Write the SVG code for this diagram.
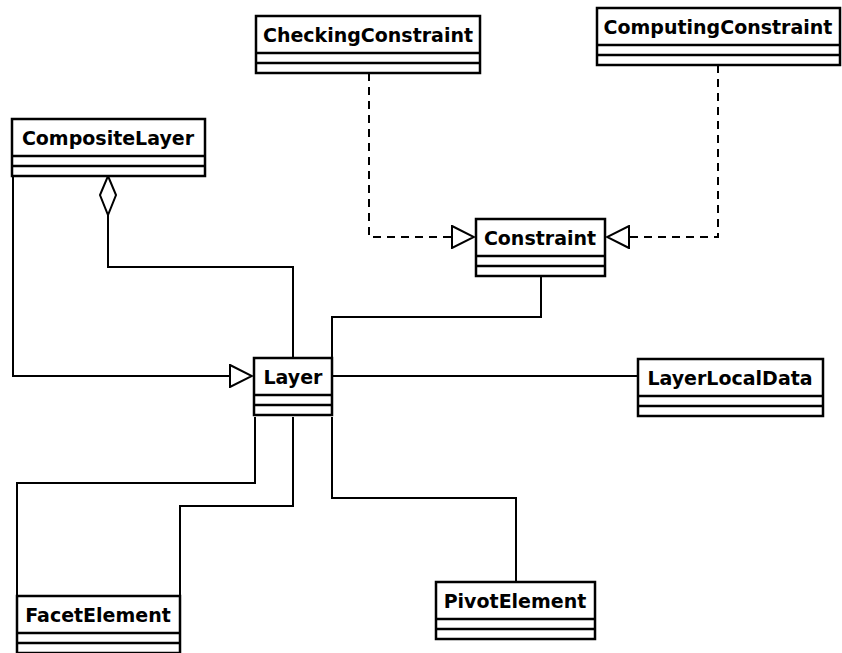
<svg xmlns="http://www.w3.org/2000/svg" width="842" height="653" viewBox="0 0 842 653">
<defs>
<style>
.box{fill:#fff;stroke:#000;stroke-width:2.5}
.sep{stroke:#000;stroke-width:2.5}
.lbl{font-family:"DejaVu Sans",sans-serif;font-weight:bold;font-size:19px;fill:#000}
.ln{fill:none;stroke:#000;stroke-width:2}
.dash{fill:none;stroke:#000;stroke-width:2;stroke-dasharray:8,6}
</style>
<marker id="tri" markerWidth="24" markerHeight="24" refX="23" refY="12" orient="auto" markerUnits="userSpaceOnUse">
<path d="M1,1 L23,12 L1,23 Z" fill="#fff" stroke="#000" stroke-width="2"/>
</marker>
<marker id="dia" markerWidth="18" markerHeight="42" refX="9" refY="1" orient="0" markerUnits="userSpaceOnUse">
<path d="M9,1 L17,20 L9,40 L1,20 Z" fill="#fff" stroke="#000" stroke-width="2"/>
</marker>
</defs>
<rect width="842" height="653" fill="#fff"/>
<g id="connectors">
<path class="dash" d="M369,73 V237 H474" marker-end="url(#tri)"/>
<path class="dash" d="M718,65 V237 H607" marker-end="url(#tri)"/>
<path class="ln" d="M108,176 V267 H293 V358" marker-start="url(#dia)"/>
<path class="ln" d="M13,176 V376 H252" marker-end="url(#tri)"/>
<path class="ln" d="M541,276 V317 H332 V358"/>
<path class="ln" d="M332,376 H638"/>
<path class="ln" d="M255,417 V483 H17 V596"/>
<path class="ln" d="M293,417 V506 H180 V596"/>
<path class="ln" d="M332,417 V498 H516 V582"/>
</g>
<g id="CheckingConstraint">
<rect class="box" x="256" y="16" width="224" height="57"/>
<line class="sep" x1="256" y1="53" x2="480" y2="53"/>
<line class="sep" x1="256" y1="63" x2="480" y2="63"/>
<text class="lbl" x="368" y="42" text-anchor="middle">CheckingConstraint</text>
</g>
<g id="ComputingConstraint">
<rect class="box" x="597" y="8" width="243" height="57"/>
<line class="sep" x1="597" y1="45" x2="840" y2="45"/>
<line class="sep" x1="597" y1="55" x2="840" y2="55"/>
<text class="lbl" x="718" y="34" text-anchor="middle">ComputingConstraint</text>
</g>
<g id="CompositeLayer">
<rect class="box" x="12" y="119" width="193" height="57"/>
<line class="sep" x1="12" y1="156" x2="205" y2="156"/>
<line class="sep" x1="12" y1="166" x2="205" y2="166"/>
<text class="lbl" x="108" y="145" text-anchor="middle">CompositeLayer</text>
</g>
<g id="Constraint">
<rect class="box" x="476" y="219" width="129" height="57"/>
<line class="sep" x1="476" y1="256" x2="605" y2="256"/>
<line class="sep" x1="476" y1="266" x2="605" y2="266"/>
<text class="lbl" x="540" y="245" text-anchor="middle">Constraint</text>
</g>
<g id="Layer">
<rect class="box" x="254" y="358" width="78" height="57"/>
<line class="sep" x1="254" y1="395" x2="332" y2="395"/>
<line class="sep" x1="254" y1="405" x2="332" y2="405"/>
<text class="lbl" x="293" y="384" text-anchor="middle">Layer</text>
</g>
<g id="LayerLocalData">
<rect class="box" x="638" y="359" width="185" height="57"/>
<line class="sep" x1="638" y1="396" x2="823" y2="396"/>
<line class="sep" x1="638" y1="406" x2="823" y2="406"/>
<text class="lbl" x="730" y="385" text-anchor="middle">LayerLocalData</text>
</g>
<g id="FacetElement">
<rect class="box" x="17" y="596" width="163" height="57"/>
<line class="sep" x1="17" y1="633" x2="180" y2="633"/>
<line class="sep" x1="17" y1="643" x2="180" y2="643"/>
<text class="lbl" x="98" y="622" text-anchor="middle">FacetElement</text>
</g>
<g id="PivotElement">
<rect class="box" x="436" y="582" width="159" height="57"/>
<line class="sep" x1="436" y1="619" x2="595" y2="619"/>
<line class="sep" x1="436" y1="629" x2="595" y2="629"/>
<text class="lbl" x="515" y="608" text-anchor="middle">PivotElement</text>
</g>
</svg>
